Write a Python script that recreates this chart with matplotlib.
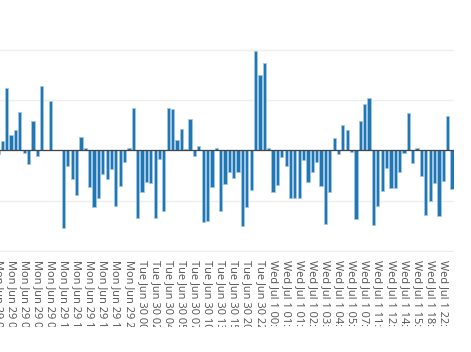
import matplotlib
matplotlib.use('Agg')
import matplotlib.pyplot as plt
from matplotlib.patches import Rectangle

## bar values, one per timestamp (grid step = 1)
returns = [
    -0.08, 0.18, 1.25, 0.30, 0.41, 0.76, -0.05, -0.27, 0.59, -0.11,
    1.29, 0.00, 0.99, 0.00, 0.00, -1.55, -0.31, -0.57, -0.89, 0.26,
    0.05, -0.73, -1.13, -0.95, -0.47, -0.57, -0.37, -1.10, -0.70, -0.23,
    0.05, 0.85, -1.35, -0.83, -0.63, -0.65, -1.35, -0.17, -1.20, 0.85,
    0.83, 0.20, 0.43, 0.02, 0.62, -0.11, 0.09, -1.42, -1.40, -0.73,
    0.05, -1.21, -0.67, -0.43, -0.55, -0.43, -1.50, -1.13, -0.78, 1.97,
    1.50, 1.75, 0.04, -0.82, -0.68, -0.13, -0.30, -0.95, -0.95, -0.95,
    -0.19, -0.63, -0.43, -0.23, -0.71, -1.47, -0.83, 0.24, -0.07, 0.50,
    0.40, -0.03, -1.37, 0.58, 0.93, 1.05, -1.48, -1.11, -0.81, -0.35,
    -0.75, -0.75, -0.43, -0.05, 0.75, -0.25, 0.04, -0.51, -1.28, -1.01,
    -0.64, -1.30, -0.60, 0.69, -0.77,
]

## every third timestamp gets a label
tick_step = 3
tick_labels = [
    'Mon Jun 29 02:00', 'Mon Jun 29 05:00', 'Mon Jun 29 06:00', 'Mon Jun 29 07:00',
    'Mon Jun 29 09:00', 'Mon Jun 29 13:00', 'Mon Jun 29 13:00', 'Mon Jun 29 14:00',
    'Mon Jun 29 15:00', 'Mon Jun 29 19:00', 'Mon Jun 29 23:00',
    'Tue Jun 30 00:00', 'Tue Jun 30 02:00', 'Tue Jun 30 04:00', 'Tue Jun 30 05:00',
    'Tue Jun 30 07:00', 'Tue Jun 30 10:00', 'Tue Jun 30 13:00', 'Tue Jun 30 15:00',
    'Tue Jun 30 20:00', 'Tue Jun 30 22:00',
    'Wed Jul 1 00:00', 'Wed Jul 1 01:00', 'Wed Jul 1 01:00', 'Wed Jul 1 02:00',
    'Wed Jul 1 03:00', 'Wed Jul 1 04:00', 'Wed Jul 1 05:00', 'Wed Jul 1 07:00',
    'Wed Jul 1 11:00', 'Wed Jul 1 12:00', 'Wed Jul 1 14:00', 'Wed Jul 1 15:00',
    'Wed Jul 1 18:00', 'Wed Jul 1 22:00',
]

W, H = 471, 352
fig = plt.figure(figsize=(W / 100, H / 100), dpi=100)

## plot area is cut off on the left, y labels fall outside the picture
ymin, ymax = -2.02, 2.98
ax = fig.add_axes([-4.2 / W, 100.0 / H, 458.4 / W, 251.3 / H])

x = list(range(len(returns)))
ax.bar(x, returns, width=0.74, color='#1f77b4', edgecolor='#a3c7e4',
       linewidth=0.6, zorder=2)
ax.axhline(0, color='#444444', lw=0.9, zorder=3)

ax.set_xlim(-0.5, len(returns) - 0.5)
ax.set_ylim(ymin, ymax)
ax.set_yticks([-2, -1, 0, 1, 2])
ax.yaxis.grid(True, color='#eeeeee', lw=1.0, zorder=0)
ax.set_axisbelow(True)
for s in ax.spines.values():
    s.set_visible(False)

ax.set_xticks(x[::tick_step])
ax.set_xticklabels(tick_labels, rotation=-90, ha='center', va='top',
                   fontsize=7.9, family='Open Sans', color='#505050')
ax.tick_params(axis='both', length=0)
ax.tick_params(axis='x', pad=6)
ax.set_yticklabels([])

## labels are cut off near the bottom like in the original
mask = Rectangle((0, 0), 1, 25.0 / H, transform=fig.transFigure,
                 facecolor='white', edgecolor='none', zorder=10)
fig.add_artist(mask)

fig.savefig('out.png', dpi=100)
